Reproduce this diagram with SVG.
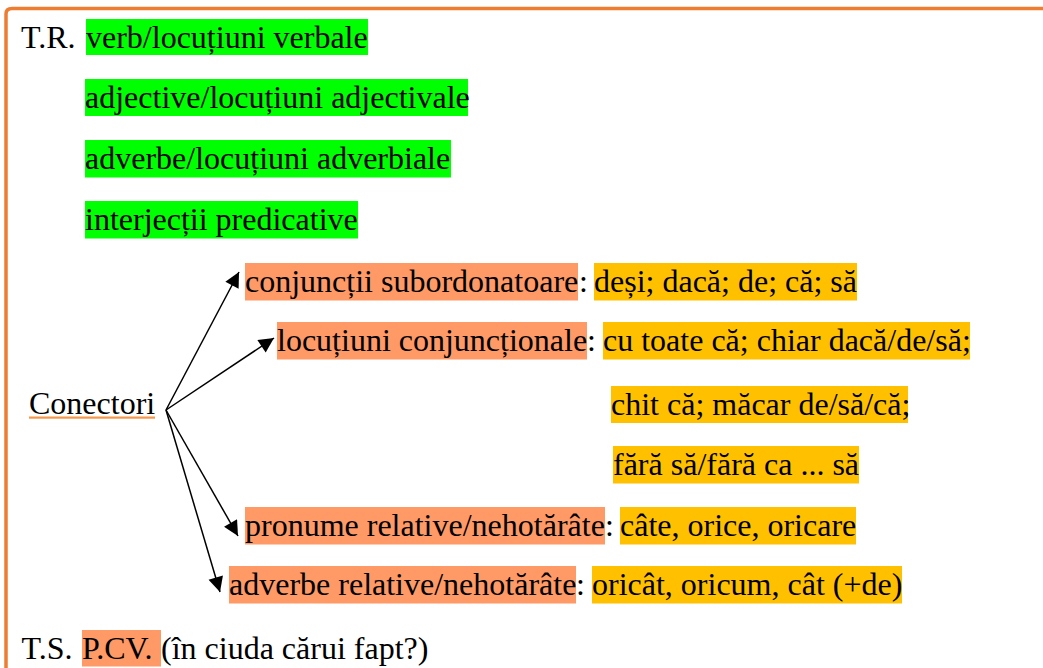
<svg xmlns="http://www.w3.org/2000/svg" width="1043" height="668" viewBox="0 0 1043 668" font-family="Liberation Serif, DejaVu Serif, serif" font-size="32">
<style>
text{font-family:'Liberation Serif','DejaVu Serif',serif;font-size:32px;fill:#000}
.g{fill:#00FF00}
.o{fill:#FF9966}
.y{fill:#FFC000}
.ln{stroke:#000;stroke-width:1.5;fill:none;marker-end:url(#ah)}
</style>
<defs>
<marker id="ah" viewBox="0 0 10 10" refX="10" refY="5" markerWidth="17" markerHeight="15" markerUnits="userSpaceOnUse" orient="auto">
<path d="M0,0 L10,5 L0,10 z" fill="#000"/>
</marker>
</defs>
<rect width="1043" height="668" fill="#fff"/>
<path id="frame" d="M6,668 L6,14 Q6,8.5 12,8.5 L1043,8.5" fill="none" stroke="#ED7D31" stroke-width="3.5"/>

<g id="tr">
<rect class="g" x="86" y="19" width="282" height="36"/>
<text x="21" y="47.5">T.R.</text>
<text x="86" y="47.5">verb/locuțiuni verbale</text>
</g>
<g id="adj">
<rect class="g" x="85" y="79" width="383" height="37"/>
<text x="85" y="107.5">adjective/locuțiuni adjectivale</text>
</g>
<g id="adv">
<rect class="g" x="85" y="140" width="366" height="37.5"/>
<text x="85" y="168.5">adverbe/locuțiuni adverbiale</text>
</g>
<g id="interj">
<rect class="g" x="85" y="201" width="273" height="37.5"/>
<text x="85" y="229.5">interjecții predicative</text>
</g>

<g id="conectori">
<text x="29" y="414">Conectori</text>
<rect x="29" y="416.5" width="126" height="2.2" fill="#F79646"/>
</g>

<g id="conj">
<rect class="o" x="245" y="263" width="333" height="37.5"/>
<rect class="y" x="594" y="263" width="263" height="37.5"/>
<text x="245" y="292">conjuncții subordonatoare</text>
<text x="579" y="292">:</text>
<text x="594" y="292">deși; dacă; de; că; să</text>
</g>
<g id="loc">
<rect class="o" x="277" y="322" width="310" height="37.5"/>
<rect class="y" x="603" y="322" width="367" height="37.5"/>
<rect class="y" x="611" y="386" width="297" height="37"/>
<rect class="y" x="613" y="446" width="246" height="37.5"/>
<text x="277" y="351">locuțiuni conjuncționale</text>
<text x="587" y="351">:</text>
<text x="603" y="351">cu toate că; chiar dacă/de/să;</text>
<text x="611" y="414.5">chit că; măcar de/să/că;</text>
<text x="613" y="474.5">fără să/fără ca ... să</text>
</g>
<g id="pron">
<rect class="o" x="245" y="507" width="360" height="37.5"/>
<rect class="y" x="620" y="507" width="236" height="37.5"/>
<text x="245" y="535.5">pronume relative/nehotărâte</text>
<text x="605" y="535.5">:</text>
<text x="620" y="535.5">câte, orice, oricare</text>
</g>
<g id="advrel">
<rect class="o" x="229" y="566" width="347" height="37.5"/>
<rect class="y" x="592" y="566" width="310" height="37.5"/>
<text x="229" y="594.5">adverbe relative/nehotărâte</text>
<text x="576" y="594.5">:</text>
<text x="592" y="594.5">oricât, oricum, cât (+de)</text>
</g>

<g id="ts">
<rect class="o" x="82" y="630" width="79" height="36.5"/>
<text x="21.5" y="658.5">T.S.</text>
<text x="82" y="658.5">P.CV.</text>
<text x="161" y="658.5"> (în ciuda cărui fapt?)</text>
</g>

<g id="connectors">
<line class="ln" x1="166" y1="410" x2="239" y2="272"/>
<line class="ln" x1="166" y1="410" x2="274" y2="338"/>
<line class="ln" x1="166" y1="410" x2="238" y2="536"/>
<line class="ln" x1="166" y1="410" x2="220" y2="592"/>
</g>
</svg>
